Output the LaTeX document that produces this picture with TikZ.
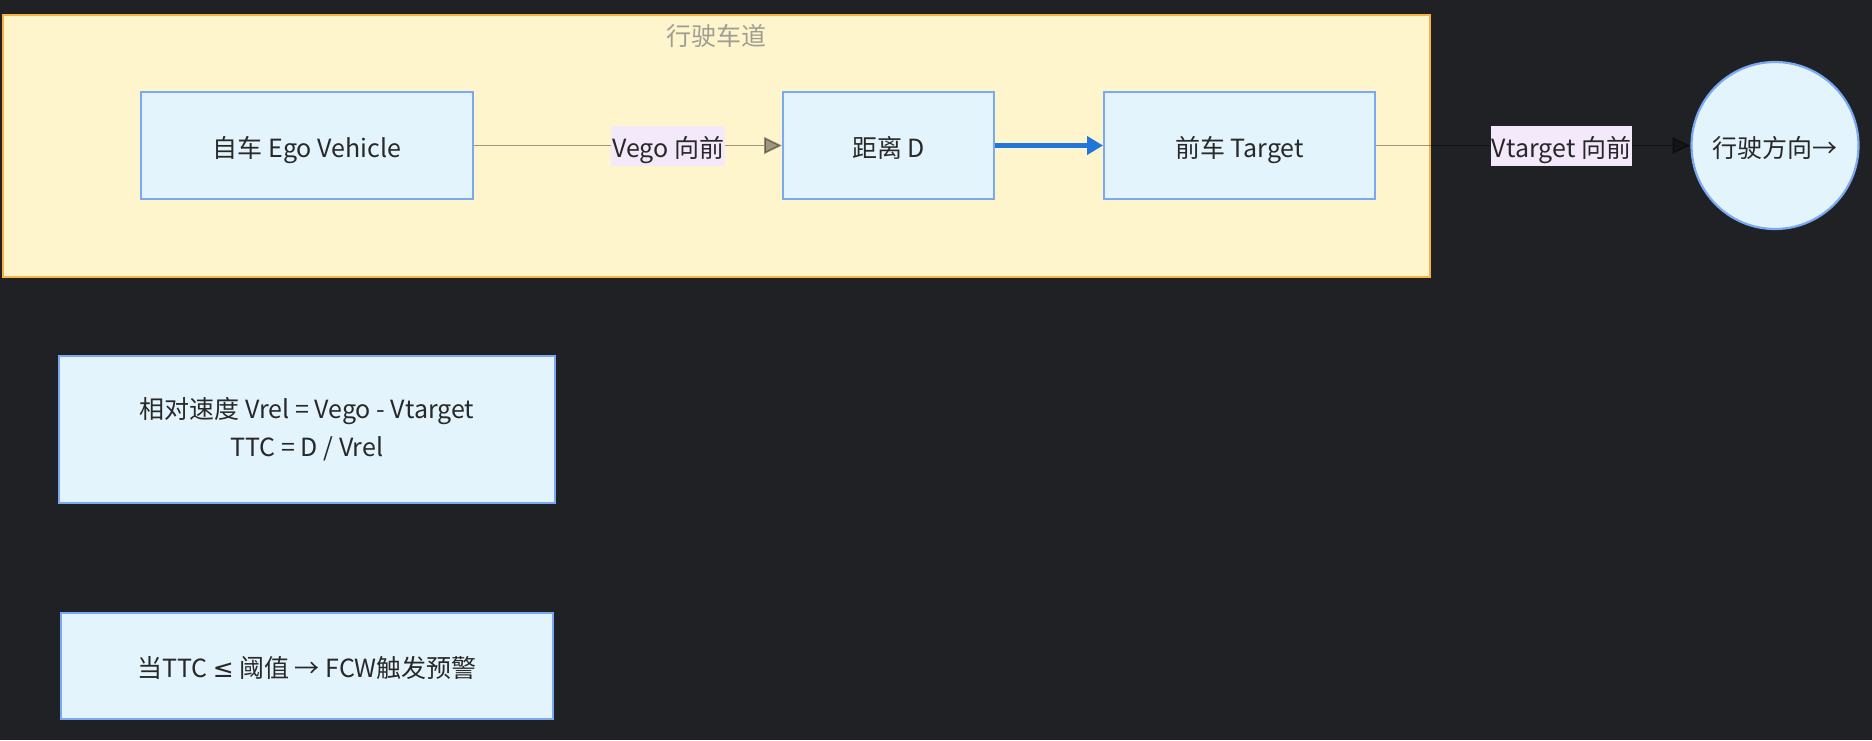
\documentclass[tikz,border=0pt]{standalone}
\usepackage{fontspec}
\setmainfont{Noto Sans CJK SC}
\newfontfamily\symfont{DejaVu Sans}
\usetikzlibrary{arrows.meta}
\definecolor{bgc}{RGB}{32,33,36}
\definecolor{lanefill}{RGB}{255,245,204}
\definecolor{laneline}{RGB}{250,178,68}
\definecolor{nodefill}{RGB}{227,244,253}
\definecolor{nodeline}{RGB}{122,168,245}
\definecolor{lblfill}{RGB}{243,233,251}
\definecolor{txt}{RGB}{40,40,40}
\definecolor{titlec}{RGB}{160,158,148}
\definecolor{blueedge}{RGB}{33,118,219}
\tikzset{
  fnt/.style={font=\fontsize{25}{38}\selectfont},
  oneline/.style={text height=23pt, text depth=0pt},
  box/.style={draw=nodeline, fill=nodefill, line width=2pt, rectangle, inner sep=0pt, text=txt, fnt, align=center},
  circ/.style={draw=nodeline, fill=nodefill, line width=2.2pt, circle, inner sep=0pt, minimum size=167pt, text=txt, fnt, oneline},
  lbl/.style={fill=lblfill, inner sep=1pt, minimum height=40pt, text=txt, fnt, oneline, opacity=1, fill opacity=1, draw opacity=1, text opacity=1},
  edge/.style={draw=black, draw opacity=0.38, fill opacity=0.38, line width=1.8pt, -{Triangle[length=18pt,width=17pt]}},
  bedge/.style={draw=blueedge, line width=4.5pt, -{Triangle[length=16pt,width=18pt]}}
}
\begin{document}
\begin{tikzpicture}[x=1pt,y=-1pt]
\useasboundingbox (0,0) rectangle (1872,740);
\fill[bgc] (0,0) rectangle (1872,740);
\draw[laneline, fill=lanefill, line width=2pt] (3,15) rectangle (1430,277);
\node[text=titlec, fnt, oneline, inner sep=0pt] (title) at (716,34) {行驶车道};
\node[box, oneline, minimum width=332pt, minimum height=107pt] (ego) at (307,145.5) {自车 Ego Vehicle};
\node[box, oneline, minimum width=211pt, minimum height=107pt] (dist) at (888.5,145.5) {距离 D};
\node[box, oneline, minimum width=271pt, minimum height=107pt] (tgt) at (1239.5,145.5) {前车 Target};
\node[circ] (dir) at (1775,145.5) {行驶方向→};
\node[box, minimum width=496pt, minimum height=147pt] (rel) at (307,429) {相对速度 Vrel = Vego - Vtarget\\TTC = D / Vrel};
\node[box, oneline, minimum width=492pt, minimum height=106pt] (fcw) at (307,665.5) {当TTC {\symfont ≤} 阈值 → FCW触发预警};
\draw[edge] (ego) -- node[lbl, pos=0.63] (l1) {Vego 向前} (dist);
\draw[bedge] (dist) -- (tgt);
\draw[edge] (tgt) -- node[lbl, pos=0.59] (l2) {Vtarget 向前} (dir);
\end{tikzpicture}
\end{document}
